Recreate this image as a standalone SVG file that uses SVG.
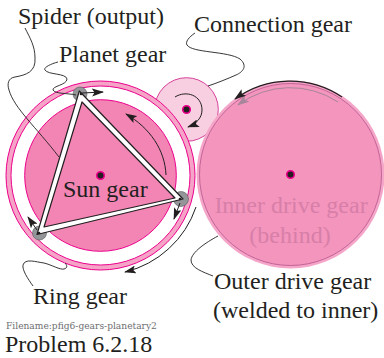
<svg xmlns="http://www.w3.org/2000/svg" width="384" height="358" viewBox="0 0 384 358">
<style>
text{font-family:"Liberation Serif","Times New Roman",serif;fill:#231f20;font-size:24px}
.lead{fill:none;stroke:#231f20;stroke-width:.9}
.arr{fill:none;stroke:#231f20;stroke-width:1}
.hub{fill:#231f20;stroke:#ec008c;stroke-width:1.6}
.planet{fill:#939598;stroke:#58595b;stroke-width:.6}
.pin{fill:#231f20}
</style>
<defs>
<marker id="ah" viewBox="0 0 12 8" refX="11" refY="4" markerWidth="12" markerHeight="8" markerUnits="userSpaceOnUse" orient="auto"><path d="M0 0L12 4L0 8L2.5 4Z" fill="#231f20"/></marker>
<marker id="ag" viewBox="0 0 12 8" refX="11" refY="4" markerWidth="12" markerHeight="8" markerUnits="userSpaceOnUse" orient="auto"><path d="M0 0L12 4L0 8L2.5 4Z" fill="#a7859b"/></marker>
</defs>
<g id="connection-gear">
<circle cx="186.500" cy="109.500" r="31.800" fill="#f8cfe0" stroke="#d6409b" stroke-width="1"/>
<circle cx="186.500" cy="109.500" r="3.800" class="hub"/>
<path d="M175 97C186 90 202 95 202 110C202 118 196 124 188 127" class="arr" marker-end="url(#ah)"/>
</g>
<g id="drive-gear">
<circle cx="290.500" cy="174.500" r="94" fill="#f5a6c8"/>
<circle cx="290.500" cy="174.500" r="91" fill="#f495bd" stroke="#b5548c" stroke-width=".8"/>
<circle cx="290.500" cy="174.500" r="3.800" class="hub"/>
<path d="M338 102A87 87 0 0 0 238 105" fill="none" stroke="#a7859b" stroke-width="1" marker-end="url(#ag)"/>
<path d="M342 97A93 93 0 0 0 235 99" class="arr" style="stroke-width:1.300" marker-end="url(#ah)"/>
<text x="291" y="213" text-anchor="middle" style="fill:#d77fa8">Inner drive gear</text>
<text x="290" y="243" text-anchor="middle" style="fill:#d77fa8">(behind)</text>
</g>
<g id="ring-gear">
<circle cx="100.500" cy="175.500" r="94.500" fill="#f5a3c7" stroke="#ec008c" stroke-width="1"/>
<circle cx="100.500" cy="175.500" r="89.500" fill="#fff" stroke="#ec008c" stroke-width="1"/>
</g>
<g id="sun-gear">
<circle cx="100.500" cy="175.500" r="75.800" fill="#f285b3" stroke="#ec008c" stroke-width="1"/>
<circle cx="100.500" cy="175.500" r="3.800" class="hub"/>
<path d="M166 175C165 150 150 128 126 114" class="arr" marker-end="url(#ah)"/>
</g>
<g id="planet-top">
<circle cx="80" cy="94" r="7" class="planet"/>
<path d="M82 93L103 92" class="arr" marker-end="url(#ah)"/>
</g>
<g id="planet-right">
<circle cx="181" cy="199" r="7.500" class="planet"/>
<path d="M180 203L174 219" class="arr" marker-end="url(#ah)"/>
</g>
<g id="planet-left">
<circle cx="39.500" cy="233" r="7" class="planet"/>
<path d="M37 230L28 217" class="arr" marker-end="url(#ah)"/>
</g>
<g id="spider">
<path fill-rule="evenodd" d="M79.300 91L183 199L37 234.500ZM82 102L44 227L175 198Z" fill="#fff" stroke="#231f20" stroke-width="1.200" stroke-linejoin="round"/>
<circle cx="81" cy="94" r="1.300" class="pin"/>
<circle cx="180" cy="199" r="1.300" class="pin"/>
<circle cx="39" cy="233" r="1.300" class="pin"/>
</g>
<g id="ring-arrow">
<path d="M196 207A100 100 0 0 1 125 272" class="arr" marker-end="url(#ah)"/>
</g>
<g id="connectors">
<path class="lead" d="M25 28C30 38 35 46 35 58C36 72 26 75 15 77C8 78 7 84 9 90C14 108 36 127 59 157"/>
<path class="lead" d="M58 62C50 64 43 68 45 70C48 75 66 73 67 79C67 85 52 86 53 90C55 94 67 93 76 95"/>
<path class="lead" d="M195 33C189 37 185 42 187 45C192 53 228 51 240 59C248 66 243 72 236 75C227 79 217 83 208 86"/>
<path class="lead" d="M218 236C205 243 192 252 191 260C191 268 203 272 213 276"/>
<path class="lead" d="M33 286C28 279 22 270 23 265C25 258 36 262 44 263C52 265 60 270 64 269C68 268 67 265 65 263"/>
</g>
<g id="labels">
<text x="63" y="197">Sun gear</text>
<text x="18" y="24">Spider (output)</text>
<text x="59" y="62">Planet gear</text>
<text x="194" y="32">Connection gear</text>
<text x="214" y="289">Outer drive gear</text>
<text x="213" y="318">(welded to inner)</text>
<text x="33" y="304">Ring gear</text>
<text x="6" y="329" style="font-family:'DejaVu Serif',serif;font-size:9.100px;fill:#6d6e71">Filename:pfig6-gears-planetary2</text>
<text x="5" y="352">Problem 6.2.18</text>
</g>
</svg>
